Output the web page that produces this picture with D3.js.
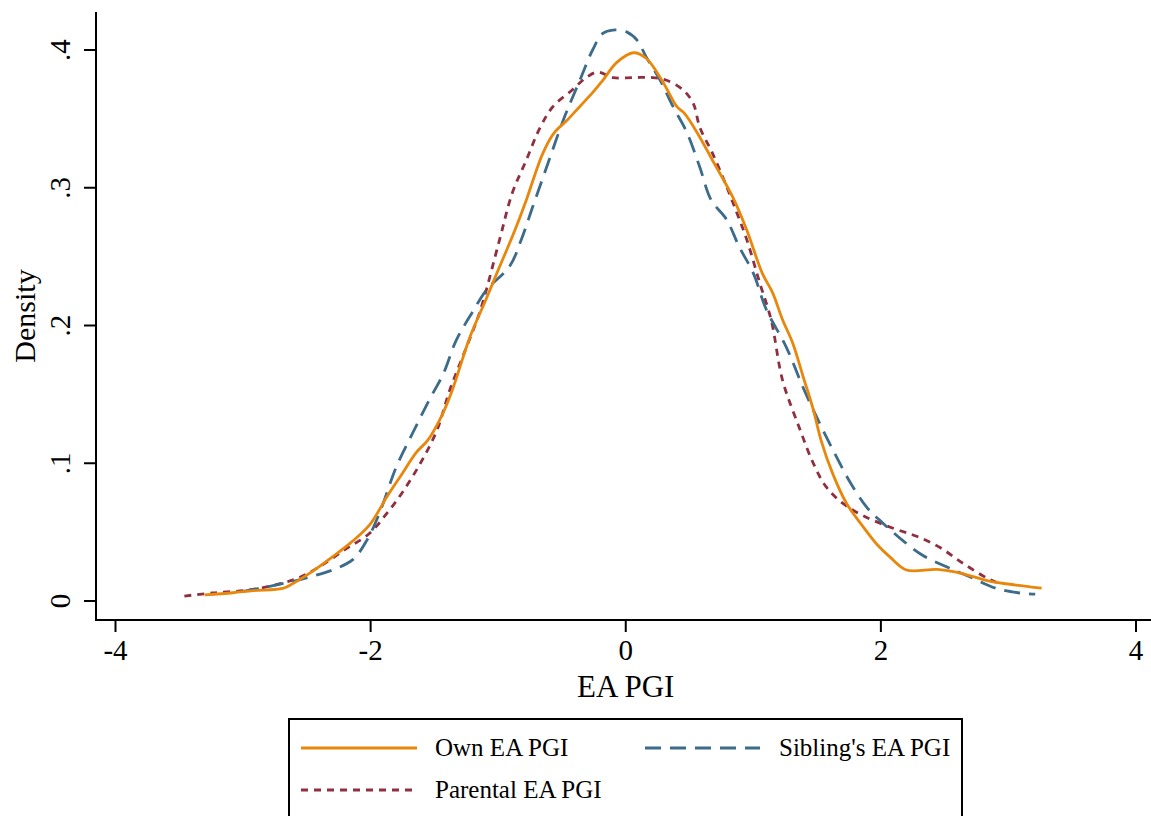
<!DOCTYPE html>
<html><head><meta charset="utf-8">
<script src="https://cdn.jsdelivr.net/npm/d3@7"></script>
<style>body{margin:0;background:#fff}svg{display:block}text{font-family:"Liberation Serif","Times New Roman",serif;fill:#000}</style>
</head><body><svg id="c" width="1151" height="816"></svg>
<script>
const xTicks=[-4,-2,0,2,4];
const yTicks=[0,0.1,0.2,0.3,0.4];
const yTickLabels=["0",".1",".2",".3",".4"];
const seriesNames=["Own EA PGI","Sibling's EA PGI","Parental EA PGI"];
const ownX=[-3.30,-3.08,-2.92,-2.69,-2.63,-2.48,-2.30,-2.16,-2.01,-1.87,-1.77,-1.64,-1.55,-1.44,-1.36,-1.22,-1.10,-1.01,-0.87,-0.78,-0.65,-0.56,-0.46,-0.36,-0.26,-0.18,-0.07,0.06,0.16,0.29,0.40,0.46,0.56,0.68,0.84,0.95,1.07,1.15,1.23,1.31,1.39,1.47,1.53,1.62,1.73,1.86,1.97,2.07,2.20,2.44,2.59,2.85,3.06,3.26];
const ownY=[0.0044,0.006,0.0075,0.0092,0.0116,0.020,0.032,0.042,0.055,0.076,0.090,0.108,0.117,0.135,0.153,0.192,0.218,0.238,0.269,0.291,0.325,0.340,0.349,0.359,0.369,0.378,0.391,0.398,0.394,0.377,0.359,0.354,0.340,0.320,0.293,0.269,0.238,0.224,0.204,0.187,0.163,0.139,0.117,0.093,0.071,0.054,0.041,0.032,0.0225,0.023,0.021,0.0145,0.0116,0.0094];
const sibX=[-3.00,-2.80,-2.62,-2.48,-2.30,-2.14,-2.03,-1.93,-1.80,-1.67,-1.54,-1.43,-1.33,-1.20,-1.09,-0.91,-0.82,-0.73,-0.62,-0.49,-0.36,-0.26,-0.18,-0.10,0.01,0.09,0.16,0.27,0.37,0.48,0.58,0.67,0.79,0.89,1.00,1.10,1.26,1.39,1.52,1.65,1.76,1.89,2.01,2.17,2.33,2.51,2.70,2.91,3.09,3.21];
const sibY=[0.007,0.0105,0.014,0.0174,0.0225,0.030,0.044,0.064,0.097,0.122,0.146,0.165,0.189,0.210,0.226,0.243,0.262,0.286,0.315,0.349,0.378,0.400,0.412,0.4145,0.413,0.407,0.395,0.378,0.359,0.340,0.315,0.291,0.277,0.257,0.238,0.212,0.184,0.155,0.129,0.105,0.086,0.068,0.057,0.044,0.033,0.025,0.0174,0.009,0.0058,0.005];
const parX=[-3.46,-3.24,-2.95,-2.69,-2.55,-2.40,-2.19,-2.01,-1.87,-1.75,-1.61,-1.48,-1.38,-1.25,-1.14,-0.99,-0.89,-0.78,-0.67,-0.57,-0.42,-0.31,-0.22,-0.10,0.06,0.21,0.32,0.45,0.53,0.58,0.68,0.79,0.87,0.95,1.05,1.14,1.23,1.36,1.47,1.57,1.70,1.86,2.09,2.28,2.46,2.64,2.83,2.92];
const parY=[0.0036,0.0058,0.008,0.013,0.0174,0.025,0.038,0.049,0.064,0.079,0.100,0.124,0.153,0.184,0.211,0.262,0.296,0.320,0.344,0.359,0.371,0.380,0.384,0.380,0.380,0.380,0.378,0.371,0.361,0.344,0.325,0.301,0.282,0.262,0.231,0.204,0.160,0.126,0.100,0.083,0.071,0.062,0.053,0.047,0.039,0.0276,0.0167,0.013];

const svg=d3.select("#c");
const x=d3.scaleLinear().domain([-4,4]).range([115.5,1136]);
const y=d3.scaleLinear().domain([0,0.4]).range([601,50]);

// axes
const xAxis=svg.append("g").attr("transform","translate(0,620)");
xAxis.append("line").attr("x1",95).attr("x2",1151).attr("y1",0).attr("y2",0).attr("stroke","#000").attr("stroke-width",2);
xAxis.selectAll(".t").data(xTicks).join("line").attr("x1",d=>x(d)).attr("x2",d=>x(d)).attr("y1",0).attr("y2",12).attr("stroke","#000").attr("stroke-width",2);
xAxis.selectAll(".l").data(xTicks).join("text").attr("x",d=>x(d)).attr("y",40).attr("text-anchor","middle").attr("font-size",29).text(d=>d);
svg.append("text").attr("x",x(0)).attr("y",697).attr("text-anchor","middle").attr("font-size",31).text("EA PGI");

const yAxis=svg.append("g").attr("transform","translate(96,0)");
yAxis.append("line").attr("x1",0).attr("x2",0).attr("y1",12).attr("y2",621).attr("stroke","#000").attr("stroke-width",2);
yAxis.selectAll(".t").data(yTicks).join("line").attr("x1",-12).attr("x2",0).attr("y1",d=>y(d)).attr("y2",d=>y(d)).attr("stroke","#000").attr("stroke-width",2);
yAxis.selectAll(".l").data(yTicks).join("text").attr("transform",d=>`translate(-26,${y(d)}) rotate(-90)`).attr("text-anchor","middle").attr("font-size",29).text((d,i)=>yTickLabels[i]);
svg.append("text").attr("transform","translate(35,316) rotate(-90)").attr("text-anchor","middle").attr("font-size",30).text("Density");

const line=d3.line().x(d=>x(d[0])).y(d=>y(d[1])).curve(d3.curveCatmullRom.alpha(0.5));
const styles=[
 {c:"#e8870b",w:2.8,dash:null},
 {c:"#3d6b8a",w:2.8,dash:"16,9"},
 {c:"#8f2f3f",w:2.8,dash:"7,6"}];
const data=[d3.zip(ownX,ownY),d3.zip(sibX,sibY),d3.zip(parX,parY)];
[2,1,0].forEach(i=>{
 svg.append("path").attr("d",line(data[i])).attr("fill","none").attr("stroke",styles[i].c).attr("stroke-width",styles[i].w).attr("stroke-dasharray",styles[i].dash);
});

// legend
const lg=svg.append("g");
lg.append("rect").attr("x",289).attr("y",719).attr("width",673).attr("height",110).attr("fill","#fff").attr("stroke","#000").attr("stroke-width",2);
const items=[{i:0,x1:301,x2:417,yy:748,tx:435},{i:1,x1:645,x2:760,yy:748,tx:779},{i:2,x1:301,x2:417,yy:790,tx:435}];
items.forEach(it=>{
 lg.append("line").attr("x1",it.x1).attr("x2",it.x2).attr("y1",it.yy).attr("y2",it.yy).attr("stroke",styles[it.i].c).attr("stroke-width",3).attr("stroke-dasharray",styles[it.i].dash);
 lg.append("text").attr("x",it.tx).attr("y",it.yy+8).attr("font-size",25).text(seriesNames[it.i]);
});
</script></body></html>
